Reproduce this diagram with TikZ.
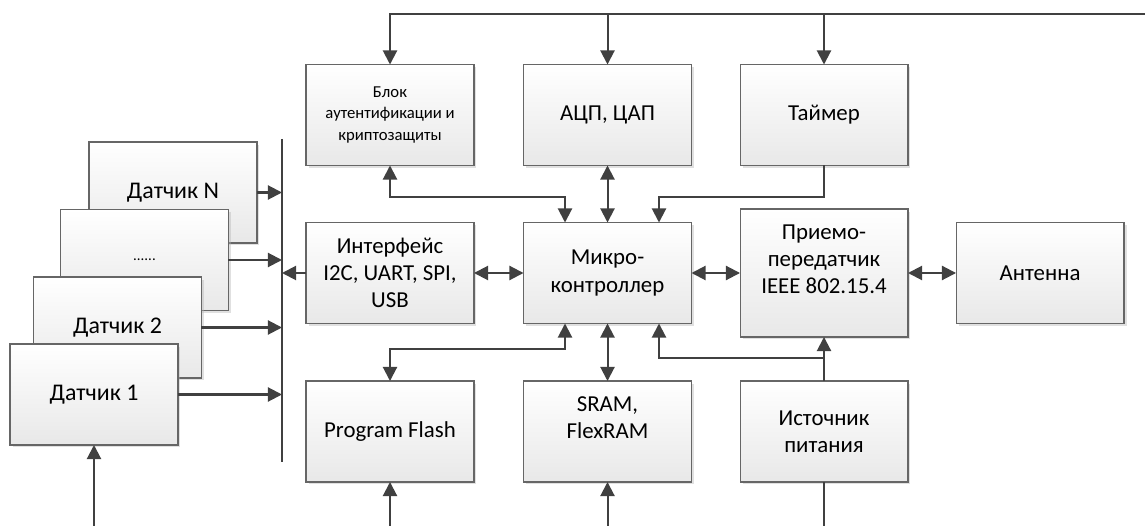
\documentclass[tikz,border=0pt]{standalone}
\usepackage{fontspec}
\setmainfont{Carlito}
\usetikzlibrary{arrows.meta,calc,shadows}

\begin{document}
\begin{tikzpicture}[x=0.02cm,y=-0.02cm,
        blk/.style={draw=black!60,line width=0.6pt,top color=white,bottom color=black!9,
            drop shadow={shadow xshift=0.05cm,shadow yshift=-0.05cm,fill=black!30,opacity=0.4},
            minimum width=3.36cm,minimum height=2.02cm,align=center,inner sep=2pt,outer sep=0pt,
            font=\fontsize{13}{15.5}\selectfont},
        sens/.style={blk,font=\fontsize{13.6}{16}\selectfont},
        con/.style={draw=black!75,line width=1.15pt},
        >={Triangle[length=8pt,width=8pt]}]
        \useasboundingbox(0,0)rectangle(1145,526);

        \node[sens](sN)at(173,192.5){Датчик N};
        \node[sens,font=\fontsize{8.5}{10}\selectfont](sD)at(144.5,260){......};
        \node[sens](s2)at(117.5,327.5){Датчик 2};
        \node[sens](s1)at(94,394.5){Датчик 1};

        \node[blk,font=\fontsize{9.5}{12.5}\selectfont](auth)at(390,115){Блок\\аутентификации и\\криптозащиты};
        \node[blk](adc)at(607.5,115){АЦП, ЦАП};
        \node[blk](timer)at(824,115){Таймер};
        \node[blk](iface)at(390,273){Интерфейс\\I2C, UART, SPI,\\USB};
        \node[blk](micro)at(607.5,273){Микро-\\контроллер};
        \node[blk,minimum height=2.56cm](trx)at(824,273){Приемо-\\передатчик\\IEEE 802.15.4\\\mbox{}};
        \node[blk](ant)at(1040,273){Антенна};
        \node[blk](flash)at(390,431.5){Program Flash};
        \node[blk](sram)at(607.5,431.5){SRAM,\\FlexRAM\\\mbox{}};
        \node[blk](power)at(824,431.5){Источник\\питания};

        \coordinate(topin)at(1145,14);
        \coordinate(bot)at(0,526);
        \coordinate(busT)at(282,139);
        \coordinate(busB)at(282,462);

        \draw[con,->](topin)-|(auth.north);
        \draw[con,->](adc.north|-topin)--(adc.north);
        \draw[con,->](timer.north|-topin)--(timer.north);

        \draw[con,<->](auth.south)|-++(0,32)-|($(micro.north)+(-42.5,0)$);
        \draw[con,<->](adc.south)--(micro.north);
        \draw[con,->](timer.south)|-++(0,32)-|($(micro.north)+(51.5,0)$);

        \draw[con,<->](iface.east)--(micro.west);
        \draw[con,<->](micro.east)--(trx.west);
        \draw[con,<->](trx.east)--(ant.west);

        \draw[con,<->]($(micro.south)+(-42.5,0)$)|-($(flash.north)+(0,-32)$)--(flash.north);
        \draw[con,<->](micro.south)--(sram.north);
        \draw[con,->](power.north)--(trx.south);
        \draw[con,->]($(power.north)+(0,-23)$)-|($(micro.south)+(51.5,0)$);

        \draw[con,->](flash.south|-bot)--(flash.south);
        \draw[con,->](sram.south|-bot)--(sram.south);
        \draw[con](power.south)--(power.south|-bot);
        \draw[con,->](s1.south|-bot)--(s1.south);

        \draw[con](busT)--(busB);
        \foreach \s in {sN,sD,s2,s1}
            \draw[con,->](\s.east)--(\s.east-|busT);
        \draw[con,->](iface.west)--(iface.west-|busT);
    \end{tikzpicture}
\end{document}
